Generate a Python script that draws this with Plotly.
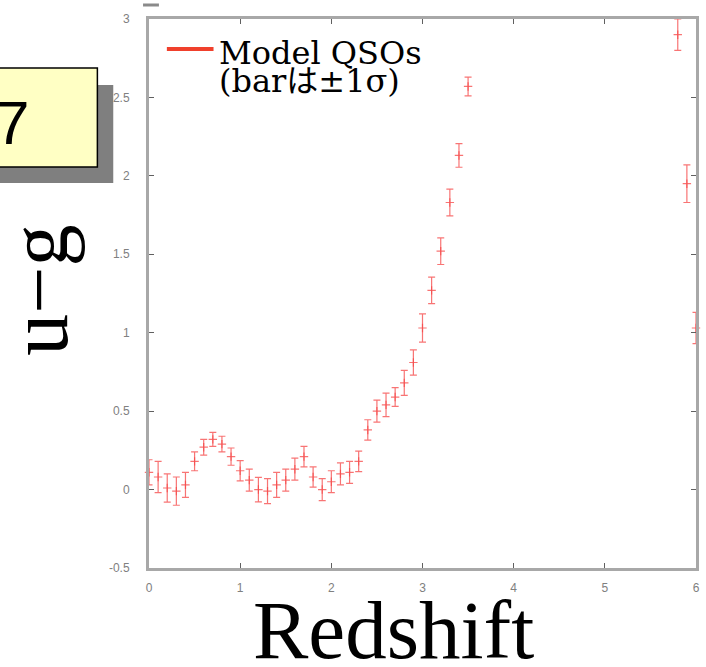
import plotly.graph_objects as go

# Model QSO colour track: u-g versus redshift with 1-sigma scatter
redshift = [0.0, 0.1, 0.2, 0.3, 0.4, 0.5, 0.6, 0.7, 0.8, 0.9,
            1.0, 1.1, 1.2, 1.3, 1.4, 1.5, 1.6, 1.7, 1.8, 1.9,
            2.0, 2.1, 2.2, 2.3, 2.4, 2.5, 2.6, 2.7, 2.8, 2.9,
            3.0, 3.1, 3.2, 3.3, 3.4, 3.5, 5.8, 5.9, 6.0]
u_g = [0.11, 0.08, 0.01, -0.01, 0.03, 0.18, 0.27, 0.32, 0.29, 0.21,
       0.12, 0.06, 0.00, -0.01, 0.03, 0.06, 0.13, 0.21, 0.08, 0.00,
       0.05, 0.10, 0.11, 0.18, 0.38, 0.50, 0.54, 0.59, 0.68, 0.81,
       1.03, 1.27, 1.52, 1.83, 2.13, 2.57, 2.90, 1.95, 1.03]
u_g_sigma = [0.08, 0.10, 0.09, 0.09, 0.08, 0.06, 0.05, 0.045, 0.05, 0.055,
             0.065, 0.07, 0.078, 0.08, 0.08, 0.07, 0.07, 0.065, 0.065, 0.07,
             0.07, 0.07, 0.07, 0.065, 0.065, 0.07, 0.075, 0.06, 0.08, 0.08,
             0.09, 0.085, 0.085, 0.085, 0.075, 0.06, 0.10, 0.12, 0.10]

x_ticks = [0, 1, 2, 3, 4, 5, 6]
y_ticks = [-0.5, 0, 0.5, 1, 1.5, 2, 2.5, 3]
y_tick_text = ["-0.5", "0", "0.5", "1", "1.5", "2", "2.5", "3"]

W, H = 706, 667
L, R, T, B = 149, 700, 19, 568  # plot area in pixels


def px(xp):
    return (xp - L) / (R - L)


def py(yp):
    return (B - yp) / (B - T)


RED = "rgba(245,70,70,0.75)"

fig = go.Figure()
fig.add_trace(go.Scatter(
    x=redshift, y=u_g, mode="markers",
    marker=dict(symbol="cross-thin", size=6, color=RED,
                line=dict(color=RED, width=1.2)),
    error_y=dict(type="data", array=u_g_sigma, visible=True,
                 color=RED, thickness=1.2, width=3.5),
    cliponaxis=False, showlegend=False, hoverinfo="skip",
))

axis_common = dict(
    showline=True, linecolor="#a8a8a8", linewidth=3, mirror="ticks",
    ticks="inside", ticklen=5, tickwidth=1, tickcolor="#606060",
    showgrid=False, zeroline=False,
    tickfont=dict(family="Liberation Sans, Arial, sans-serif",
                  size=12, color="#808080"),
)

fig.update_layout(
    width=W, height=H,
    margin=dict(l=L, r=W - R, t=T, b=H - B),
    paper_bgcolor="white", plot_bgcolor="white",
    xaxis=dict(range=[0, 6], tickvals=x_ticks, ticklabelstandoff=7,
               **axis_common),
    yaxis=dict(range=[-0.5, 3], tickvals=y_ticks, ticktext=y_tick_text,
               ticklabelstandoff=14, **axis_common),
    showlegend=False,
    hovermode=False,
)

shapes = [
    # figure-number tag with drop shadow
    dict(type="rect", xref="paper", yref="paper",
         x0=px(-10), x1=px(113), y0=py(85), y1=py(183),
         fillcolor="#7f7f7f", line=dict(width=0), layer="above"),
    dict(type="rect", xref="paper", yref="paper",
         x0=px(-10), x1=px(97), y0=py(68), y1=py(167),
         fillcolor="#ffffc4", line=dict(color="black", width=1.5),
         layer="above"),
    # legend key
    dict(type="line", xref="paper", yref="paper",
         x0=px(167), x1=px(214), y0=py(49), y1=py(49),
         line=dict(color="#f0402c", width=4)),
    # small stroke above the frame
    dict(type="line", xref="paper", yref="paper",
         x0=px(143), x1=px(159), y0=py(5), y1=py(5),
         line=dict(color="#8a8a8a", width=3)),
]
fig.update_layout(shapes=shapes)

annotations = [
    dict(text="7", xref="paper", yref="paper", x=px(30), y=py(122),
         xanchor="right", yanchor="middle", showarrow=False,
         font=dict(family="Liberation Sans, Arial, sans-serif",
                   size=62, color="black")),
    dict(text="Model QSOs", xref="paper", yref="paper", x=px(217), y=py(53),
         xanchor="left", yanchor="middle", showarrow=False,
         font=dict(family="DejaVu Serif, serif", size=32, color="black")),
    dict(text="(barは±1σ)", xref="paper", yref="paper", x=px(217), y=py(81),
         xanchor="left", yanchor="middle", showarrow=False,
         font=dict(family="DejaVu Serif, Noto Sans CJK JP, serif",
                   size=32, color="black")),
    dict(text="Redshift", xref="paper", yref="paper", x=px(395), y=py(630),
         xanchor="center", yanchor="middle", showarrow=False,
         font=dict(family="Liberation Serif, Times New Roman, serif",
                   size=83, color="black")),
    dict(text="u−g", xref="paper", yref="paper", x=px(37), y=py(290),
         xanchor="center", yanchor="middle", textangle=-90, showarrow=False,
         font=dict(family="Liberation Serif, Times New Roman, serif",
                   size=84, color="black")),
]
fig.update_layout(annotations=annotations)

fig.write_html("out.html")
